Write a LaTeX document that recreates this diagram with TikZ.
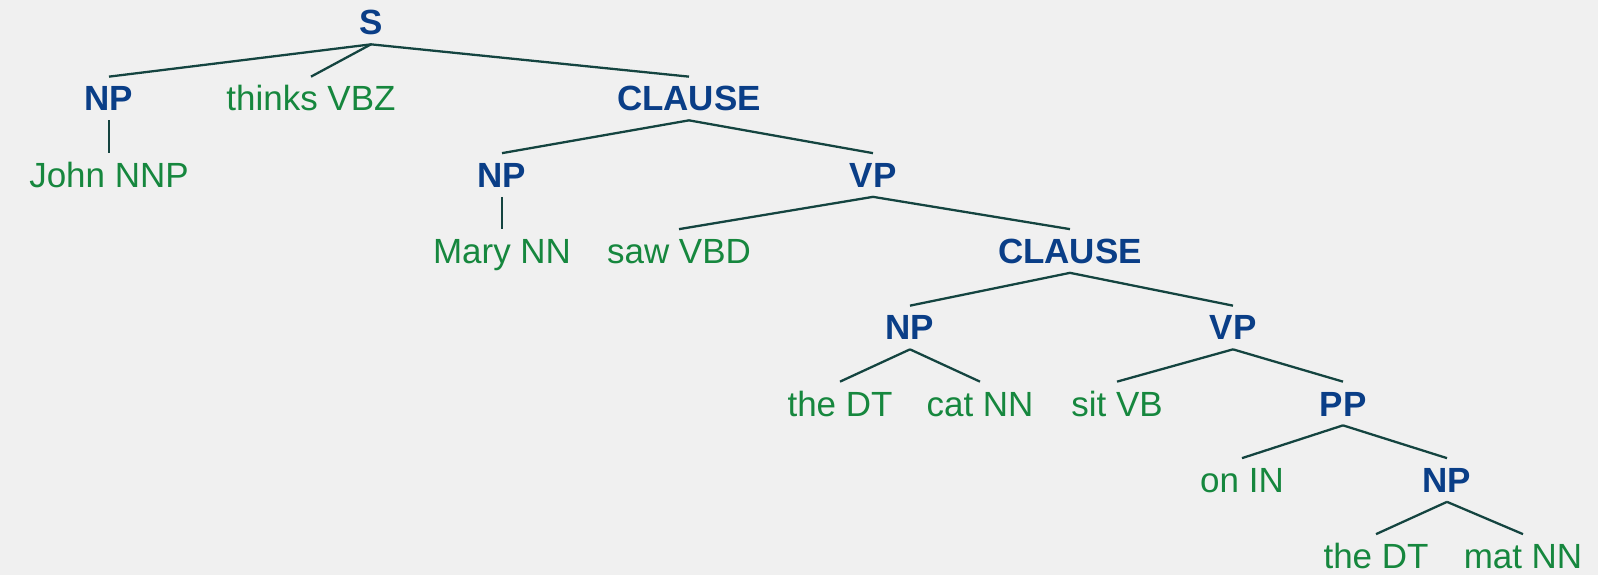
\documentclass[tikz,border=0pt]{standalone}
\usepackage{fontspec}
\setmainfont{Liberation Sans}
\usepackage{xcolor}
\definecolor{catblue}{RGB}{10,62,135}
\definecolor{wordgreen}{RGB}{22,135,62}
\definecolor{branchcol}{RGB}{20,68,64}
\definecolor{paper}{RGB}{240,240,240}
\tikzset{phrase/.style={inner xsep=2pt, inner ysep=0.18cm, text height=0.5cm, text depth=0pt, text=catblue, font=\fontsize{19.9}{24}\selectfont\bfseries}}
\tikzset{word/.style={inner xsep=2pt, inner ysep=0.18cm, text height=0.5cm, text depth=0pt, text=wordgreen, font=\fontsize{19.9}{24}\selectfont}}
\tikzset{branch/.style={draw=branchcol, line width=1.3pt}}

\begin{document}
\begin{tikzpicture}
	\fill[paper] (0,0) rectangle (31.96,-11.5);
	\useasboundingbox (0,0) rectangle (31.96,-11.5);
	% level 0 and 1
	\node [phrase] (S)       at (7.42,-0.45)  {S};
	\node [phrase] (NPa)     at (2.18,-1.97)  {NP};
	\node [word]   (thinks)  at (6.22,-1.97)  {thinks VBZ};
	\node [phrase] (CLa)     at (13.78,-1.97) {CLAUSE};
	% level 2
	\node [word]   (john)    at (2.18,-3.50)  {John NNP};
	\node [phrase] (NPb)     at (10.04,-3.50) {NP};
	\node [phrase] (VPa)     at (17.46,-3.50) {VP};
	% level 3
	\node [word]   (mary)    at (10.04,-5.02) {Mary NN};
	\node [word]   (saw)     at (13.58,-5.02) {saw VBD};
	\node [phrase] (CLb)     at (21.40,-5.02) {CLAUSE};
	% level 4
	\node [phrase] (NPc)     at (18.20,-6.55) {NP};
	\node [phrase] (VPb)     at (24.66,-6.55) {VP};
	% level 5
	\node [word]   (theA)    at (16.80,-8.07) {the DT};
	\node [word]   (cat)     at (19.60,-8.07) {cat NN};
	\node [word]   (sit)     at (22.34,-8.07) {sit VB};
	\node [phrase] (PP)      at (26.86,-8.07) {PP};
	% level 6 and 7
	\node [word]   (on)      at (24.84,-9.60) {on IN};
	\node [phrase] (NPd)     at (28.94,-9.60) {NP};
	\node [word]   (theB)    at (27.52,-11.12) {the DT};
	\node [word]   (mat)     at (30.46,-11.12) {mat NN};

	\path[branch]
	(S.south) edge (NPa.north)
	(S.south) edge (thinks.north)
	(S.south) edge (CLa.north)
	(NPa.south) edge (john.north)
	(CLa.south) edge (NPb.north)
	(CLa.south) edge (VPa.north)
	(NPb.south) edge (mary.north)
	(VPa.south) edge (saw.north)
	(VPa.south) edge (CLb.north)
	(CLb.south) edge (NPc.north)
	(CLb.south) edge (VPb.north)
	(NPc.south) edge (theA.north)
	(NPc.south) edge (cat.north)
	(VPb.south) edge (sit.north)
	(VPb.south) edge (PP.north)
	(PP.south) edge (on.north)
	(PP.south) edge (NPd.north)
	(NPd.south) edge (theB.north)
	(NPd.south) edge (mat.north);
\end{tikzpicture}
\end{document}
